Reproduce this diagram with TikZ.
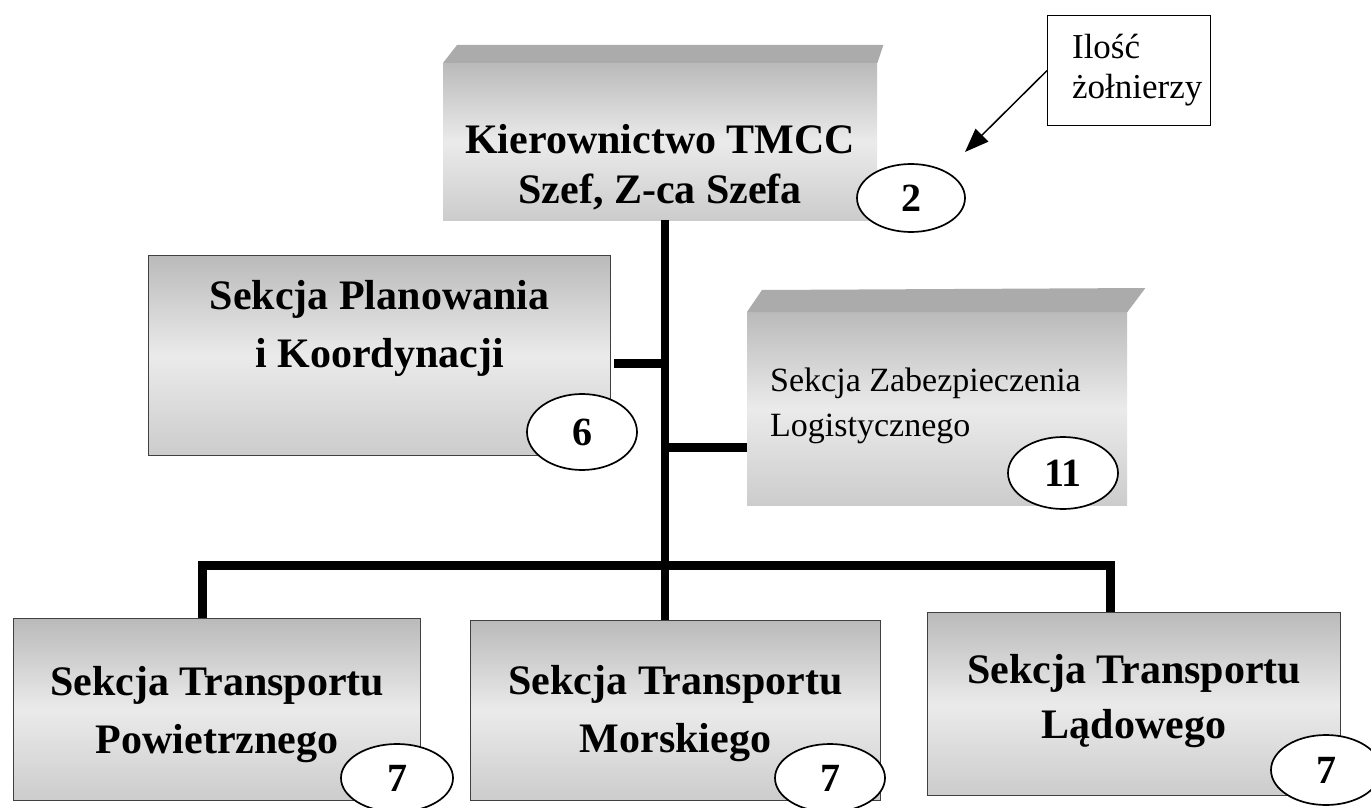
\documentclass[tikz,border=0pt]{standalone}
\usepackage{fontspec}
\setmainfont{Liberation Serif}
\usetikzlibrary{shapes.geometric,arrows.meta,calc}
\begin{document}
\begin{tikzpicture}[x=1pt,y=-1pt,
  unitbox/.style={shade,top color=black!27,bottom color=black!20,middle color=black!8,
    inner sep=0pt,anchor=north west},
  framed/.style={unitbox,draw=black!75,line width=1.2pt},
  boxtext/.style={align=center,inner sep=0pt,font=\fontsize{42}{58}\selectfont\bfseries},
  bevel/.style={fill=black!33},
  count/.style={ellipse,draw,fill=white,line width=1.7pt,inner sep=0pt,
    font=\fontsize{40}{40}\selectfont\bfseries},
  conn/.style={line width=8.5pt},
  lblbox/.style={draw,line width=1.2pt,fill=white,anchor=north west,inner sep=0pt,
    align=left,font=\fontsize{35}{40}\selectfont,text width=138pt}
]
\useasboundingbox (0,0) rectangle (1371,808);
\fill[white] (0,0) rectangle (1371,808);

% top box
\node[unitbox,minimum width=434pt,minimum height=157pt] (kier) at (443,63) {};
\fill[bevel] (kier.north west) -- ++(14,-18) -- ($(kier.north east)+(6,-18)$) -- (kier.north east) -- cycle;
\node[boxtext,font=\fontsize{42}{50}\selectfont\bfseries] (kiert) at ($(kier.center)+(0,25)$)
  {Kierownictwo TMCC\\Szef, Z-ca Szefa};

% planning
\node[framed,minimum width=462pt,minimum height=200pt] (plan) at (148,255) {};
\node[boxtext] (plant) at ($(plan.center)+(0,-27)$) {Sekcja Planowania\\i Koordynacji};

% logistics
\node[unitbox,minimum width=380pt,minimum height=193pt] (zab) at (747,312) {};
\fill[bevel] (zab.north west) -- ++(15,-22) -- ($(zab.north east)+(18,-24)$) -- (zab.north east) -- cycle;
\node[align=left,inner sep=0pt,anchor=west,font=\fontsize{34}{45}\selectfont] (zabt)
  at ($(zab.west)+(23,-3)$) {Sekcja Zabezpieczenia\\Logistycznego};

% bottom boxes
\node[framed,minimum width=407pt,minimum height=182pt] (pow) at (13,618) {};
\node[boxtext] (powt) at ($(pow.center)+(0,5)$) {Sekcja Transportu\\Powietrznego};
\node[framed,minimum width=410pt,minimum height=180pt] (mor) at (470,620) {};
\node[boxtext] (mort) at ($(mor.center)+(0,3)$) {Sekcja Transportu\\Morskiego};
\node[framed,minimum width=413pt,minimum height=183pt] (lad) at (927,612) {};
\node[boxtext,font=\fontsize{42}{55}\selectfont\bfseries] (ladt) at ($(lad.center)+(0,-3)$)
  {Sekcja Transportu\\Lądowego};

% connectors
\coordinate (t) at (665,565);
\coordinate (bl) at (202,565);
\coordinate (br) at (1110,565);
\coordinate (pb) at ($(plan.east)+(3,8)$);
\coordinate (zb) at ($(zab.west)+(0,39)$);
\draw[conn] (kier.south -| t) -- (mor.north -| t);
\draw[conn] (pb) -- (pb -| t);
\draw[conn] (zb) -- (zb -| t);
\draw[conn,line width=9pt] (pow.north -| bl) -- (bl) -- (br) -- (lad.north -| br);

% counts
\node[count,minimum width=108pt,minimum height=68pt] (c2) at (911,198) {2};
\node[count,minimum width=110pt,minimum height=76pt] (c6) at (582,432) {6};
\node[count,minimum width=110pt,minimum height=72pt] (c11) at (1063,473) {11};
\node[count,minimum width=112pt,minimum height=68pt] (c7a) at (397,778) {7};
\node[count,minimum width=110pt,minimum height=68pt] (c7b) at (830,778) {7};
\node[count,minimum width=110pt,minimum height=70pt] (c7c) at (1326,770) {7};

% legend
\node[lblbox,minimum width=163pt,minimum height=110pt] (lbl) at (1047,15)
  {\hspace*{12pt}Ilość\\\hspace*{12pt}żołnierzy};
\coordinate (tip) at (965,152);
\draw[line width=1.5pt,-{Triangle[length=24pt,width=18pt]}] (lbl.west) -- (tip);
\end{tikzpicture}
\end{document}
